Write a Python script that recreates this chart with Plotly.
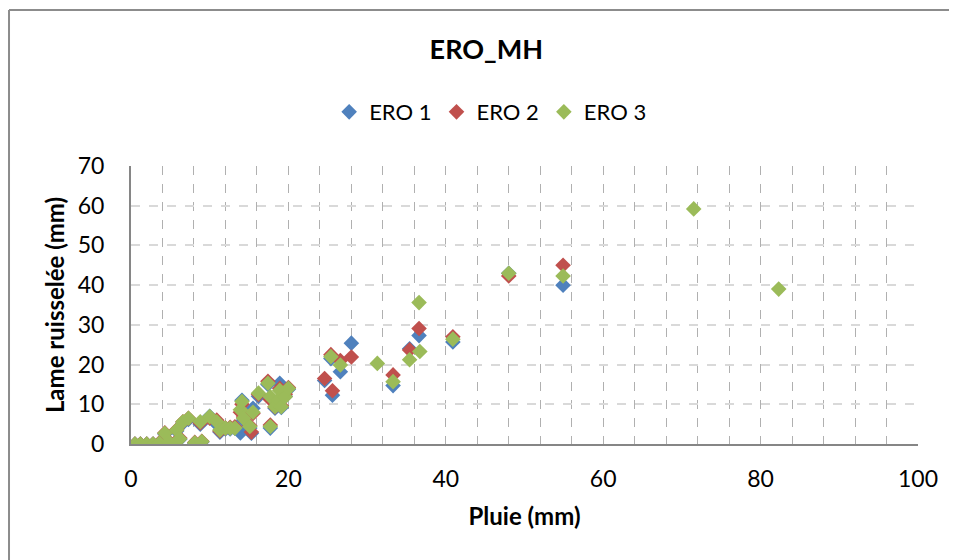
import plotly.graph_objects as go

COLOR_ERO1 = "#4F81BD"
COLOR_ERO2 = "#C0504D"
COLOR_ERO3 = "#9BBB59"

# Pluie (mm) per event, shared by the three plots
pluie = [0.5, 1.2, 2.0, 2.8, 3.6, 4.3, 4.8, 5.5, 5.8, 6.2,
         6.6, 7.3, 8.1, 8.8, 9.0, 10.0, 10.9, 11.3, 12.0, 12.6,
         13.2, 13.9, 14.1, 14.3, 15.1, 15.3, 15.5, 16.2, 17.4, 17.7,
         17.7, 18.3, 18.7, 18.9, 19.1, 19.6, 20.0, 24.6, 25.4, 25.6,
         26.6, 28.0, 31.3, 33.3, 35.4, 36.6, 36.7, 40.9, 48.0, 54.9,
         71.5, 82.3]

# Lame ruisselee (mm)
ero1 = [0, 0, 0, 0, 0.2, 2.5, 0.5, 0, 3.3, 1.2,
        5.3, 6.2, 0.2, 5.0, 0.5, 7.0, 5.0, 3.0, 3.8, 3.8,
        4.0, 2.8, 11.0, 6.0, 4.0, 2.7, 9.0, 12.0, 15.0, 11.5,
        4.0, 9.0, 10.5, 15.3, 9.2, 12.0, 13.8, 16.0, 21.5, 12.3,
        18.2, 25.4, None, 14.7, 24.0, 27.3, None, 25.7, 43.0, 40.0,
        None, None]
ero2 = [0, 0, 0, 0, 0.3, 2.8, 0.6, 0.1, 3.6, 1.5,
        5.6, 6.5, 0.4, 5.3, 0.7, 6.5, 6.0, 3.3, 4.0, 4.2,
        4.3, 8.0, 10.0, 6.8, 4.6, 3.0, 7.7, 12.5, 15.8, 11.2,
        4.8, 9.3, 11.0, 14.0, 9.6, 12.5, 14.2, 16.5, 22.5, 13.4,
        21.0, 21.9, None, 17.4, 23.7, 29.1, None, 27.0, 42.3, 45.0,
        None, None]
ero3 = [0, 0, 0, 0, 0.2, 2.7, 0.5, 0, 3.5, 1.3,
        5.6, 6.5, 0.3, 5.6, 0.6, 6.9, 5.6, 3.5, 4.0, 4.0,
        4.0, 8.6, 10.7, 6.5, 4.4, None, 8.0, 12.8, 15.3, 11.9,
        4.4, 9.4, 11.0, 13.5, 9.4, 11.9, 14.0, None, 22.0, None,
        19.9, None, 20.3, 15.7, 21.2, 35.6, 23.3, 26.4, 43.0, 42.3,
        59.2, 39.0]

series = [("ERO 1", ero1, COLOR_ERO1), ("ERO 2", ero2, COLOR_ERO2), ("ERO 3", ero3, COLOR_ERO3)]

fig = go.Figure()
for name, values, color in series:
    fig.add_trace(
        go.Scatter(
            x=pluie,
            y=values,
            mode="markers",
            name=name,
            marker=dict(symbol="diamond", size=12, color=color, line=dict(width=0)),
            hovertemplate=name + ": %{x} mm, %{y} mm<extra></extra>",
        )
    )

FONT = "Lato, 'Open Sans', sans-serif"

# page body has an 8px margin, so the figure is a bit smaller than the window
fig.update_layout(
    width=949,
    height=552,
    margin=dict(l=123, r=39, t=158, b=116),
    plot_bgcolor="white",
    paper_bgcolor="white",
    font=dict(family=FONT, size=23, color="#000000"),
    title=dict(text="<b>ERO_MH</b>", xref="container", x=0.504, xanchor="center",
               y=0.924, yanchor="middle", font=dict(size=27)),
    legend=dict(orientation="h", x=0.457, xanchor="center", y=1.194, yanchor="middle",
                font=dict(size=22), itemwidth=30, tracegroupgap=0),
    xaxis=dict(
        range=[0, 100],
        dtick=20,
        showline=True,
        linecolor="#868686",
        linewidth=2,
        showgrid=True,
        gridcolor="#B0B0B0",
        griddash="dash",
        gridwidth=1,
        zeroline=False,
        ticks="",
        ticklabelstandoff=13,
        minor=dict(dtick=4, showgrid=True, gridcolor="#B0B0B0", griddash="dash", gridwidth=1),
        title=dict(text="<b>Pluie (mm)</b>", standoff=18, font=dict(size=24)),
    ),
    yaxis=dict(
        range=[0, 70],
        dtick=10,
        showline=True,
        linecolor="#868686",
        linewidth=2,
        showgrid=True,
        gridcolor="#D9D9D9",
        griddash="dash",
        gridwidth=1.5,
        zeroline=False,
        ticks="",
        ticklabelstandoff=20,
        title=dict(text="<b>Lame ruisselée (mm)</b>", standoff=6, font=dict(size=24)),
    ),
    shapes=[
        dict(type="line", xref="paper", yref="paper", x0=-0.155, x1=1.06, y0=1.561, y1=1.561,
             line=dict(color="#8C8C8C", width=2)),
        dict(type="line", xref="paper", yref="paper", x0=-0.155, x1=-0.155, y0=1.561, y1=-0.45,
             line=dict(color="#8C8C8C", width=2)),
    ],
)

fig.write_html("out.html")
